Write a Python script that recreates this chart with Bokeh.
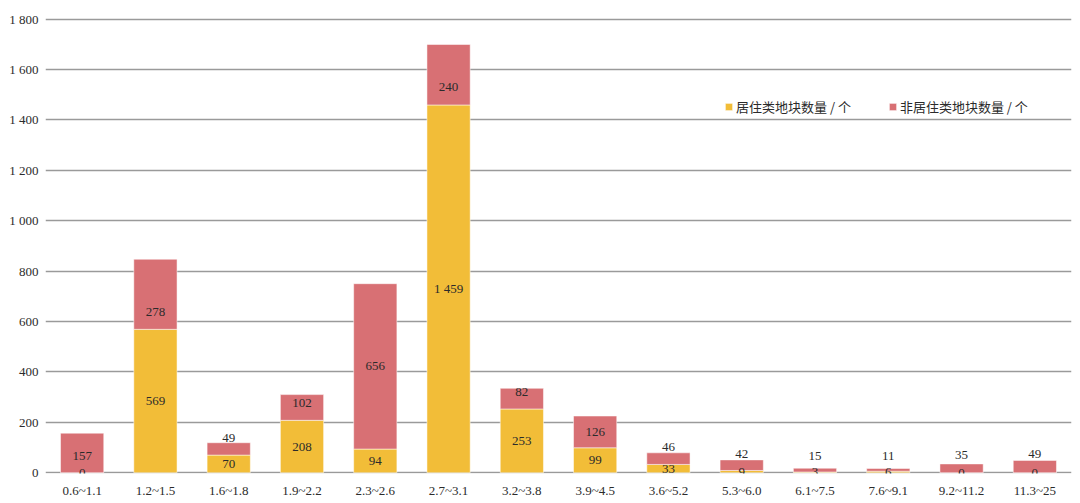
from bokeh.plotting import figure
from bokeh.models import ColumnDataSource, Range1d, FixedTicker, Legend, LegendItem
from bokeh.core.properties import value
from bokeh.embed import file_html
from bokeh.resources import INLINE

categories = ["0.6~1.1", "1.2~1.5", "1.6~1.8", "1.9~2.2", "2.3~2.6", "2.7~3.1", "3.2~3.8",
              "3.9~4.5", "3.6~5.2", "5.3~6.0", "6.1~7.5", "7.6~9.1", "9.2~11.2", "11.3~25"]
residential = [0, 569, 70, 208, 94, 1459, 253, 99, 33, 9, 3, 6, 0, 0]
non_residential = [157, 278, 49, 102, 656, 240, 82, 126, 46, 42, 15, 11, 35, 49]
y_ticks = [0, 200, 400, 600, 800, 1000, 1200, 1400, 1600, 1800]
series_names = ["居住类地块数量 / 个", "非居住类地块数量 / 个"]

# label pixel nudges (style only)
red_label_dy = [3, 18, -11, -4, 0, 12, -7, 0, -12, -11, -14, -14, -13, -13]

YELLOW = "#F2BD38"
RED = "#D87074"
SERIF = "Liberation Serif"
CJK = "Noto Sans CJK SC"
TXT = "#2b2b2b"


def fmt(n):
    return f"{n:,}".replace(",", " ")


src = ColumnDataSource(dict(
    cat=categories,
    res=residential,
    non=non_residential,
    res_y=[r / 2 for r in residential],
    non_y=[r + n / 2 for r, n in zip(residential, non_residential)],
    res_txt=[fmt(v) for v in residential],
    non_txt=[fmt(v) for v in non_residential],
    non_dy=red_label_dy,
))

p = figure(x_range=categories, y_range=Range1d(-3, 1806), width=1080, height=503,
           output_backend="svg", toolbar_location=None,
           min_border_left=45, min_border_right=9, min_border_top=17, min_border_bottom=30)
p.x_range.range_padding = 0
p.outline_line_color = None
p.background_fill_color = "white"

renderers = p.vbar_stack(["res", "non"], x="cat", width=0.59, color=[YELLOW, RED],
                         line_color="white", line_alpha=0.5, line_width=1, source=src)

p.text(x="cat", y="res_y", text="res_txt", source=src, text_align="center",
       text_baseline="middle", text_font=value(SERIF), text_font_size="13px",
       text_color=TXT)
p.text(x="cat", y="non_y", text="non_txt", source=src, text_align="center",
       text_baseline="middle", text_font=value(SERIF), text_font_size="13px",
       text_color=TXT, y_offset="non_dy")

# axes
p.xgrid.grid_line_color = None
p.ygrid.grid_line_color = "#9a9a9a"
p.ygrid.grid_line_width = 1.5
p.yaxis.ticker = FixedTicker(ticks=y_ticks)
p.yaxis.major_label_overrides = {t: fmt(t) for t in y_ticks}
for ax in (p.xaxis, p.yaxis):
    ax.axis_line_color = None
    ax.major_tick_line_color = None
    ax.minor_tick_line_color = None
    ax.major_tick_out = 0
    ax.major_tick_in = 0
    ax.minor_tick_out = 0
    ax.major_label_text_font = SERIF
    ax.major_label_text_font_size = "13px"
    ax.major_label_text_color = TXT
p.yaxis.major_label_standoff = 7
p.xaxis.major_label_standoff = 9

legend = Legend(items=[LegendItem(label=series_names[0], renderers=[renderers[0]]),
                       LegendItem(label=series_names[1], renderers=[renderers[1]])],
                orientation="horizontal", location=(679, 357),
                glyph_width=9, glyph_height=9, label_height=12, label_standoff=3,
                spacing=37, padding=0, margin=0,
                label_text_font=CJK, label_text_font_size="13px", label_text_color=TXT,
                background_fill_alpha=0, border_line_color=None)
p.add_layout(legend, "center")

open("out.html", "w").write(file_html(p, INLINE))
